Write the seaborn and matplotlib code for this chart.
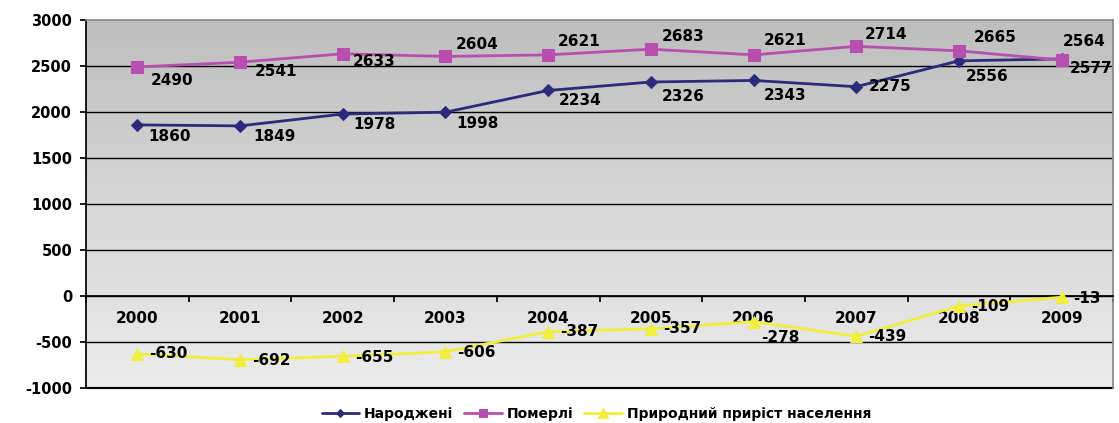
import numpy as np
import pandas as pd
import matplotlib
matplotlib.use('Agg')
import matplotlib.pyplot as plt
from matplotlib.colors import LinearSegmentedColormap
import seaborn as sns

# data
years = ['2000', '2001', '2002', '2003', '2004', '2005', '2006', '2007', '2008', '2009']
born = [1860, 1849, 1978, 1998, 2234, 2326, 2343, 2275, 2556, 2577]
died = [2490, 2541, 2633, 2604, 2621, 2683, 2621, 2714, 2665, 2564]
natural = [-630, -692, -655, -606, -387, -357, -278, -439, -109, -13]
names = ['Народжені', 'Померлі', 'Природний приріст населення']

# label offsets in pixels (dx right, dy down)
born_off = [(11, 12), (13, 11), (11, 10), (11, 11), (11, 10), (11, 14), (10, 15), (12, 0), (7, 16), (8, 10)]
died_off = [(13, 14), (15, 9), (10, 8), (10, -12), (10, -13), (11, -13), (10, -14), (9, -12), (15, -13), (1, -19)]
nat_off = [(12, 0), (12, 1), (12, 1), (12, 1), (12, 0), (12, 0), (8, 16), (12, 0), (12, 0), (11, 1)]

sns.set_theme(style='white')
plt.rcParams['font.family'] = ['DejaVu Sans']
plt.rcParams['font.weight'] = 'bold'
plt.rcParams['axes.unicode_minus'] = False
plt.rcParams['text.color'] = 'black'
plt.rcParams['xtick.color'] = 'black'
plt.rcParams['ytick.color'] = 'black'

fig = plt.figure(figsize=(11.19, 4.23), dpi=100)
ax = fig.add_axes([86 / 1119, 1 - 388 / 423, (1113 - 86) / 1119, (388 - 20) / 423])

x = np.arange(len(years))
df = pd.DataFrame({'x': x, names[0]: born, names[1]: died, names[2]: natural})

# gradient plot area
grad = np.linspace(0, 1, 256).reshape(-1, 1)
cmap = LinearSegmentedColormap.from_list('g', ['#bebebe', '#d6d6d6', '#ececec'])
ax.imshow(grad, extent=[-0.5, 9.5, -1000, 3000], aspect='auto', cmap=cmap,
          origin='upper', zorder=0)

for v in range(-1000, 3000, 500):
    ax.axhline(v, color='black', lw=1, zorder=1)

colors = ['#2b2b7c', '#b84fae', '#f2ee3c']
markers = ['D', 's', '^']
msizes = [6, 8, 9]
for name, c, m, ms in zip(names, colors, markers, msizes):
    sns.lineplot(data=df, x='x', y=name, ax=ax, color=c, marker=m, markersize=ms,
                 markeredgecolor=c, linewidth=2, label=name, zorder=3)

px = 0.72
for vals, offs in [(born, born_off), (died, died_off), (natural, nat_off)]:
    for i, (v, (dx, dy)) in enumerate(zip(vals, offs)):
        ax.annotate(str(v), (i, v), xytext=(dx * px, -dy * px), textcoords='offset points',
                    ha='left', va='center', fontsize=11, fontweight='bold', color='black',
                    annotation_clip=False, zorder=4)

ax.set_xlim(-0.5, 9.5)
ax.set_ylim(-1000, 3000)
ax.set_xlabel('')
ax.set_ylabel('')
ax.set_yticks(range(-1000, 3001, 500))
ax.tick_params(axis='y', direction='out', length=4, color='black', pad=6, labelsize=10.5, left=True)
for t in ax.get_yticklabels():
    t.set_fontweight('bold')

ax.set_xticks(np.arange(-0.5, 10, 1))
ax.set_xticklabels([])
ax.set_xticks(x, minor=True)
ax.set_xticklabels(years, minor=True, fontweight='bold', fontsize=10.5)
ax.tick_params(axis='x', which='major', direction='out', length=4, color='black', bottom=True)
ax.tick_params(axis='x', which='minor', length=0, pad=11)

ax.spines['bottom'].set_position(('data', 0))
ax.spines['bottom'].set_color('black')
ax.spines['left'].set_color('black')
ax.spines['top'].set_color('#888888')
ax.spines['right'].set_color('#888888')
ax.axhline(-1000, color='black', lw=1.5, zorder=2, clip_on=False)

handles, labels = ax.get_legend_handles_labels()
ax.get_legend().remove()
leg = fig.legend(handles, labels, loc='center', bbox_to_anchor=(0.533, 0.022), ncol=3, frameon=False,
                 prop={'size': 10, 'weight': 'bold'}, handlelength=2.7, columnspacing=0.8,
                 handletextpad=0.35, markerscale=0.75)
for t in leg.get_texts():
    t.set_color('black')

fig.savefig('out.png', dpi=100)
